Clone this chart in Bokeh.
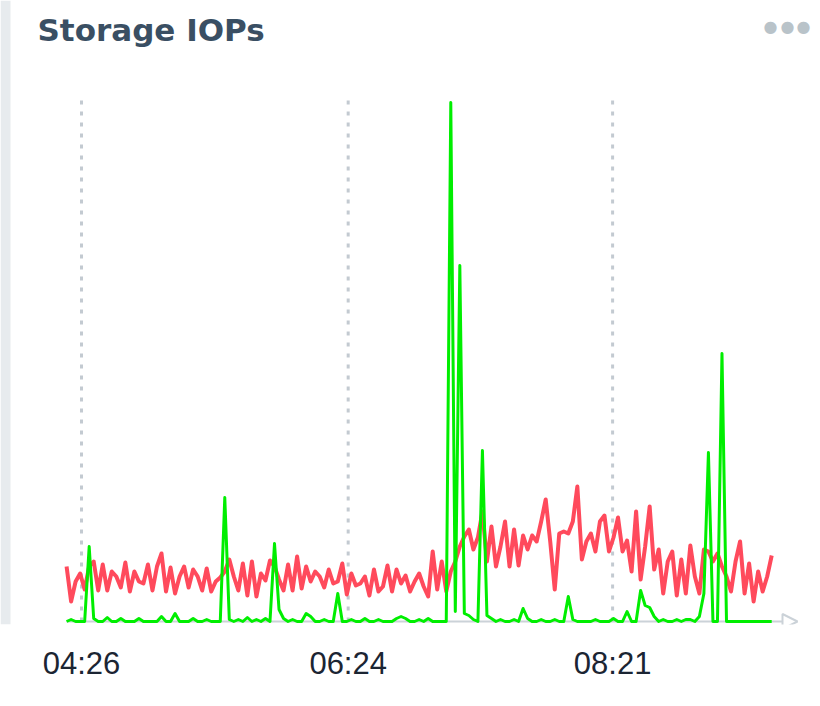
import pandas as pd
from bokeh.plotting import figure
from bokeh.models import (FixedTicker, DatetimeTickFormatter, Range1d, Arrow,
                          NormalHead, Label, BoxAnnotation)
from bokeh.embed import file_html
from bokeh.resources import INLINE

# ---------------- data ----------------
series_start = "2024-01-01 04:19:24"
step = "2min"
tick_labels = ["04:26", "06:24", "08:21"]

read_iops = [
    55, 20, 40, 48, 32, 55, 60, 31, 57, 31,
    50, 45, 34, 59, 30, 50, 40, 38, 57, 31,
    55, 68, 30, 54, 28, 45, 55, 34, 52, 45,
    31, 53, 30, 40, 44, 50, 62, 45, 31, 58,
    26, 60, 25, 48, 41, 61, 55, 42, 31, 57,
    31, 65, 33, 55, 40, 50, 45, 34, 52, 38,
    40, 58, 27, 48, 36, 38, 45, 26, 52, 30,
    35, 56, 30, 52, 38, 46, 30, 40, 48, 35,
    25, 70, 32, 60, 30, 50, 60, 75, 85, 92,
    72, 84, 110, 60, 95, 55, 75, 100, 55, 92,
    56, 86, 72, 86, 80, 100, 122, 80, 32, 88,
    90, 88, 100, 135, 62, 80, 88, 70, 100, 106,
    70, 84, 104, 70, 81, 50, 110, 42, 75, 115,
    52, 72, 28, 60, 70, 26, 62, 28, 76, 45,
    28, 72, 70, 60, 68, 55, 45, 30, 60, 80,
    28, 58, 20, 50, 30, 45, 66,
]

write_iops = [
    0, 2, 0, 0, 0, 75, 3, 0, 0, 4,
    0, 0, 3, 0, 0, 0, 3, 0, 0, 0,
    0, 5, 0, 0, 8, 0, 0, 0, 3, 0,
    0, 2, 0, 0, 0, 124, 2, 0, 2, 0,
    4, 0, 2, 0, 3, 0, 78, 12, 3, 0,
    2, 0, 0, 8, 5, 0, 0, 2, 0, 0,
    28, 0, 0, 2, 0, 0, 3, 0, 0, 2,
    0, 0, 0, 3, 5, 3, 0, 0, 2, 0,
    3, 0, 0, 0, 0, 519, 10, 356, 8, 6,
    2, 0, 171, 6, 3, 0, 2, 0, 0, 2,
    0, 13, 3, 0, 0, 2, 0, 0, 2, 0,
    0, 25, 2, 0, 0, 0, 0, 2, 0, 0,
    0, 3, 0, 0, 10, 0, 0, 31, 16, 14,
    5, 0, 2, 0, 0, 2, 0, 2, 2, 0,
    5, 28, 169, 0, 0, 268, 0, 0, 0, 0,
    0, 0, 0, 0, 0, 0, 0,
]

times = pd.date_range(series_start, periods=len(read_iops), freq=step)
tick_ms = [pd.Timestamp("2024-01-01 " + t).timestamp() * 1000 for t in tick_labels]

# ---------------- layout helpers ----------------
px_per_min = 2.26
min_ms = 60_000
x0 = tick_ms[0] - 81 / px_per_min * min_ms             # canvas left
x1 = tick_ms[0] + (820 - 81) / px_per_min * min_ms     # canvas right
arrow_end = tick_ms[0] + (797 - 81) / px_per_min * min_ms
grid_top = 521

p = figure(width=820, height=706, x_axis_type="datetime",
           output_backend="svg", toolbar_location=None,
           x_range=Range1d(x0, x1), y_range=Range1d(-3, 621),
           min_border_left=0, min_border_right=0,
           min_border_top=0, min_border_bottom=82)
p.outline_line_color = None
p.background_fill_color = "white"
p.border_fill_color = "white"

p.yaxis.visible = False
p.ygrid.visible = False
p.xgrid.visible = False

ticker = FixedTicker(ticks=tick_ms)
p.xaxis.ticker = ticker
p.xaxis.formatter = DatetimeTickFormatter(
    minutes="%H:%M", hourmin="%H:%M", hours="%H:%M", days="%H:%M",
    minsec="%H:%M", seconds="%H:%M", context=None)
p.xaxis.axis_line_color = None
p.xaxis.major_tick_line_color = None
p.xaxis.minor_tick_line_color = None
p.xaxis.major_tick_out = 0
p.xaxis.major_tick_in = 0
p.xaxis.major_label_standoff = 21
p.xaxis.major_label_text_font = "Liberation Sans"
p.xaxis.major_label_text_font_size = "31px"
p.xaxis.major_label_text_color = "#1b2533"

# dotted vertical grid lines at the tick times
p.segment(x0=tick_ms, y0=[0] * len(tick_ms), x1=tick_ms, y1=[grid_top] * len(tick_ms),
          line_color="#c3cad1", line_width=3, line_dash="4 7")

axis_arrow = Arrow(end=NormalHead(size=15, fill_color="white",
                                  line_color="#cbd2d8", line_width=2),
                   x_start=times[0].timestamp() * 1000, y_start=0,
                   x_end=arrow_end, y_end=0,
                   line_color="#cbd2d8", line_width=2, level="underlay")
p.add_layout(axis_arrow)

p.line(times, read_iops, line_color="#ff4a5c", line_width=4, line_join="round")
p.line(times, write_iops, line_color="#00ee00", line_width=3, line_join="round")

# panel decorations
p.add_layout(BoxAnnotation(left=0, right=10, left_units="screen", right_units="screen",
                           fill_color="#e7ebee", fill_alpha=1.0,
                           line_color=None, level="underlay"))

p.add_layout(Label(x=37, y=595, x_units="screen", y_units="screen",
                   text="Storage IOPs", text_align="left",
                   text_baseline="alphabetic", text_font="DejaVu Sans",
                   text_font_style="bold", text_font_size="31px",
                   text_color="#3a4f63"))

for cx in (770, 787, 803):
    p.add_layout(Label(x=cx, y=598, x_units="screen", y_units="screen",
                       text="●", text_align="center", text_baseline="middle",
                       text_font="DejaVu Sans", text_font_size="16px",
                       text_color="#b9c3c9"))

open("out.html", "w").write(file_html(p, INLINE))
